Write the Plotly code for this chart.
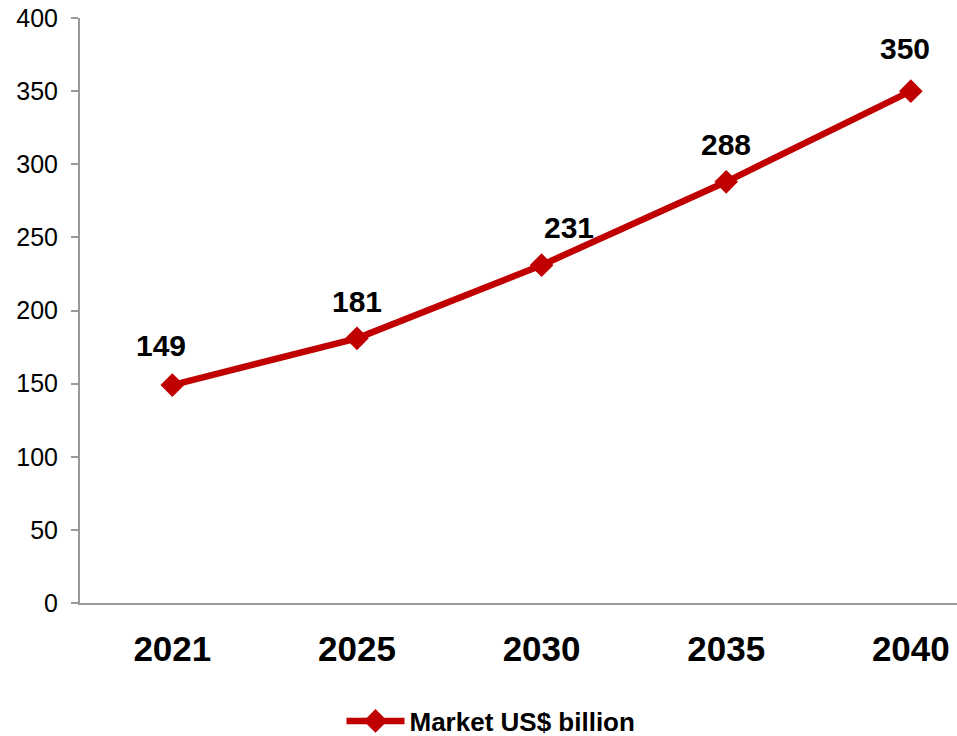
import plotly.graph_objects as go

years = ["2021", "2025", "2030", "2035", "2040"]
market = [149, 181, 231, 288, 350]
series_name = "Market US$ billion"

# label offsets in pixels (style only)
label_dx = [-11, 0, 27, 0, -6]
label_dy = [40, 37, 38, 37, 43]

RED = "#C00000"
FONT = "Liberation Sans, Arial, sans-serif"

fig = go.Figure()
fig.add_trace(go.Scatter(
    x=years, y=market, name=f"<b>{series_name}</b>", mode="lines+markers",
    line=dict(color=RED, width=6.5),
    marker=dict(symbol="diamond", size=15, color=RED, line=dict(color=RED, width=3)),
    cliponaxis=False,
))

for i, (v, dx, dy) in enumerate(zip(market, label_dx, label_dy)):
    fig.add_annotation(x=i, y=v, xref="x", yref="y", text=f"<b>{v}</b>", showarrow=False,
                       xshift=dx, yshift=dy,
                       font=dict(family=FONT, size=30, color="black"))

fig.update_layout(
    width=957, height=736,
    margin=dict(l=80, r=0, t=18, b=133, autoexpand=False),
    paper_bgcolor="white", plot_bgcolor="white",
    font=dict(family=FONT, color="black"),
    showlegend=True,
    legend=dict(orientation="h", xref="container", yref="container",
                x=491 / 957, xanchor="center", y=1 - 721 / 736, yanchor="middle",
                font=dict(family=FONT, size=26, color="black"),
                itemwidth=58),
    xaxis=dict(type="category", range=[-0.5, 4.25], showgrid=False, zeroline=False,
               showline=True, linecolor="#9A9A9A", linewidth=2, ticks="",
               tickfont=dict(family=FONT, size=35, color="black", weight="bold"),
               ticklabelstandoff=14, automargin=False),
    yaxis=dict(range=[0, 400], dtick=50, showgrid=False, zeroline=False,
               showline=True, linecolor="#9A9A9A", linewidth=2,
               ticks="outside", ticklen=7, tickcolor="#9A9A9A", tickwidth=2,
               tickfont=dict(family=FONT, size=25, color="black"),
               ticklabelstandoff=8, automargin=False),
)

fig.write_html("out.html", config={"displayModeBar": False},
               post_script="document.body.style.margin='0';document.body.style.overflow='hidden';")
